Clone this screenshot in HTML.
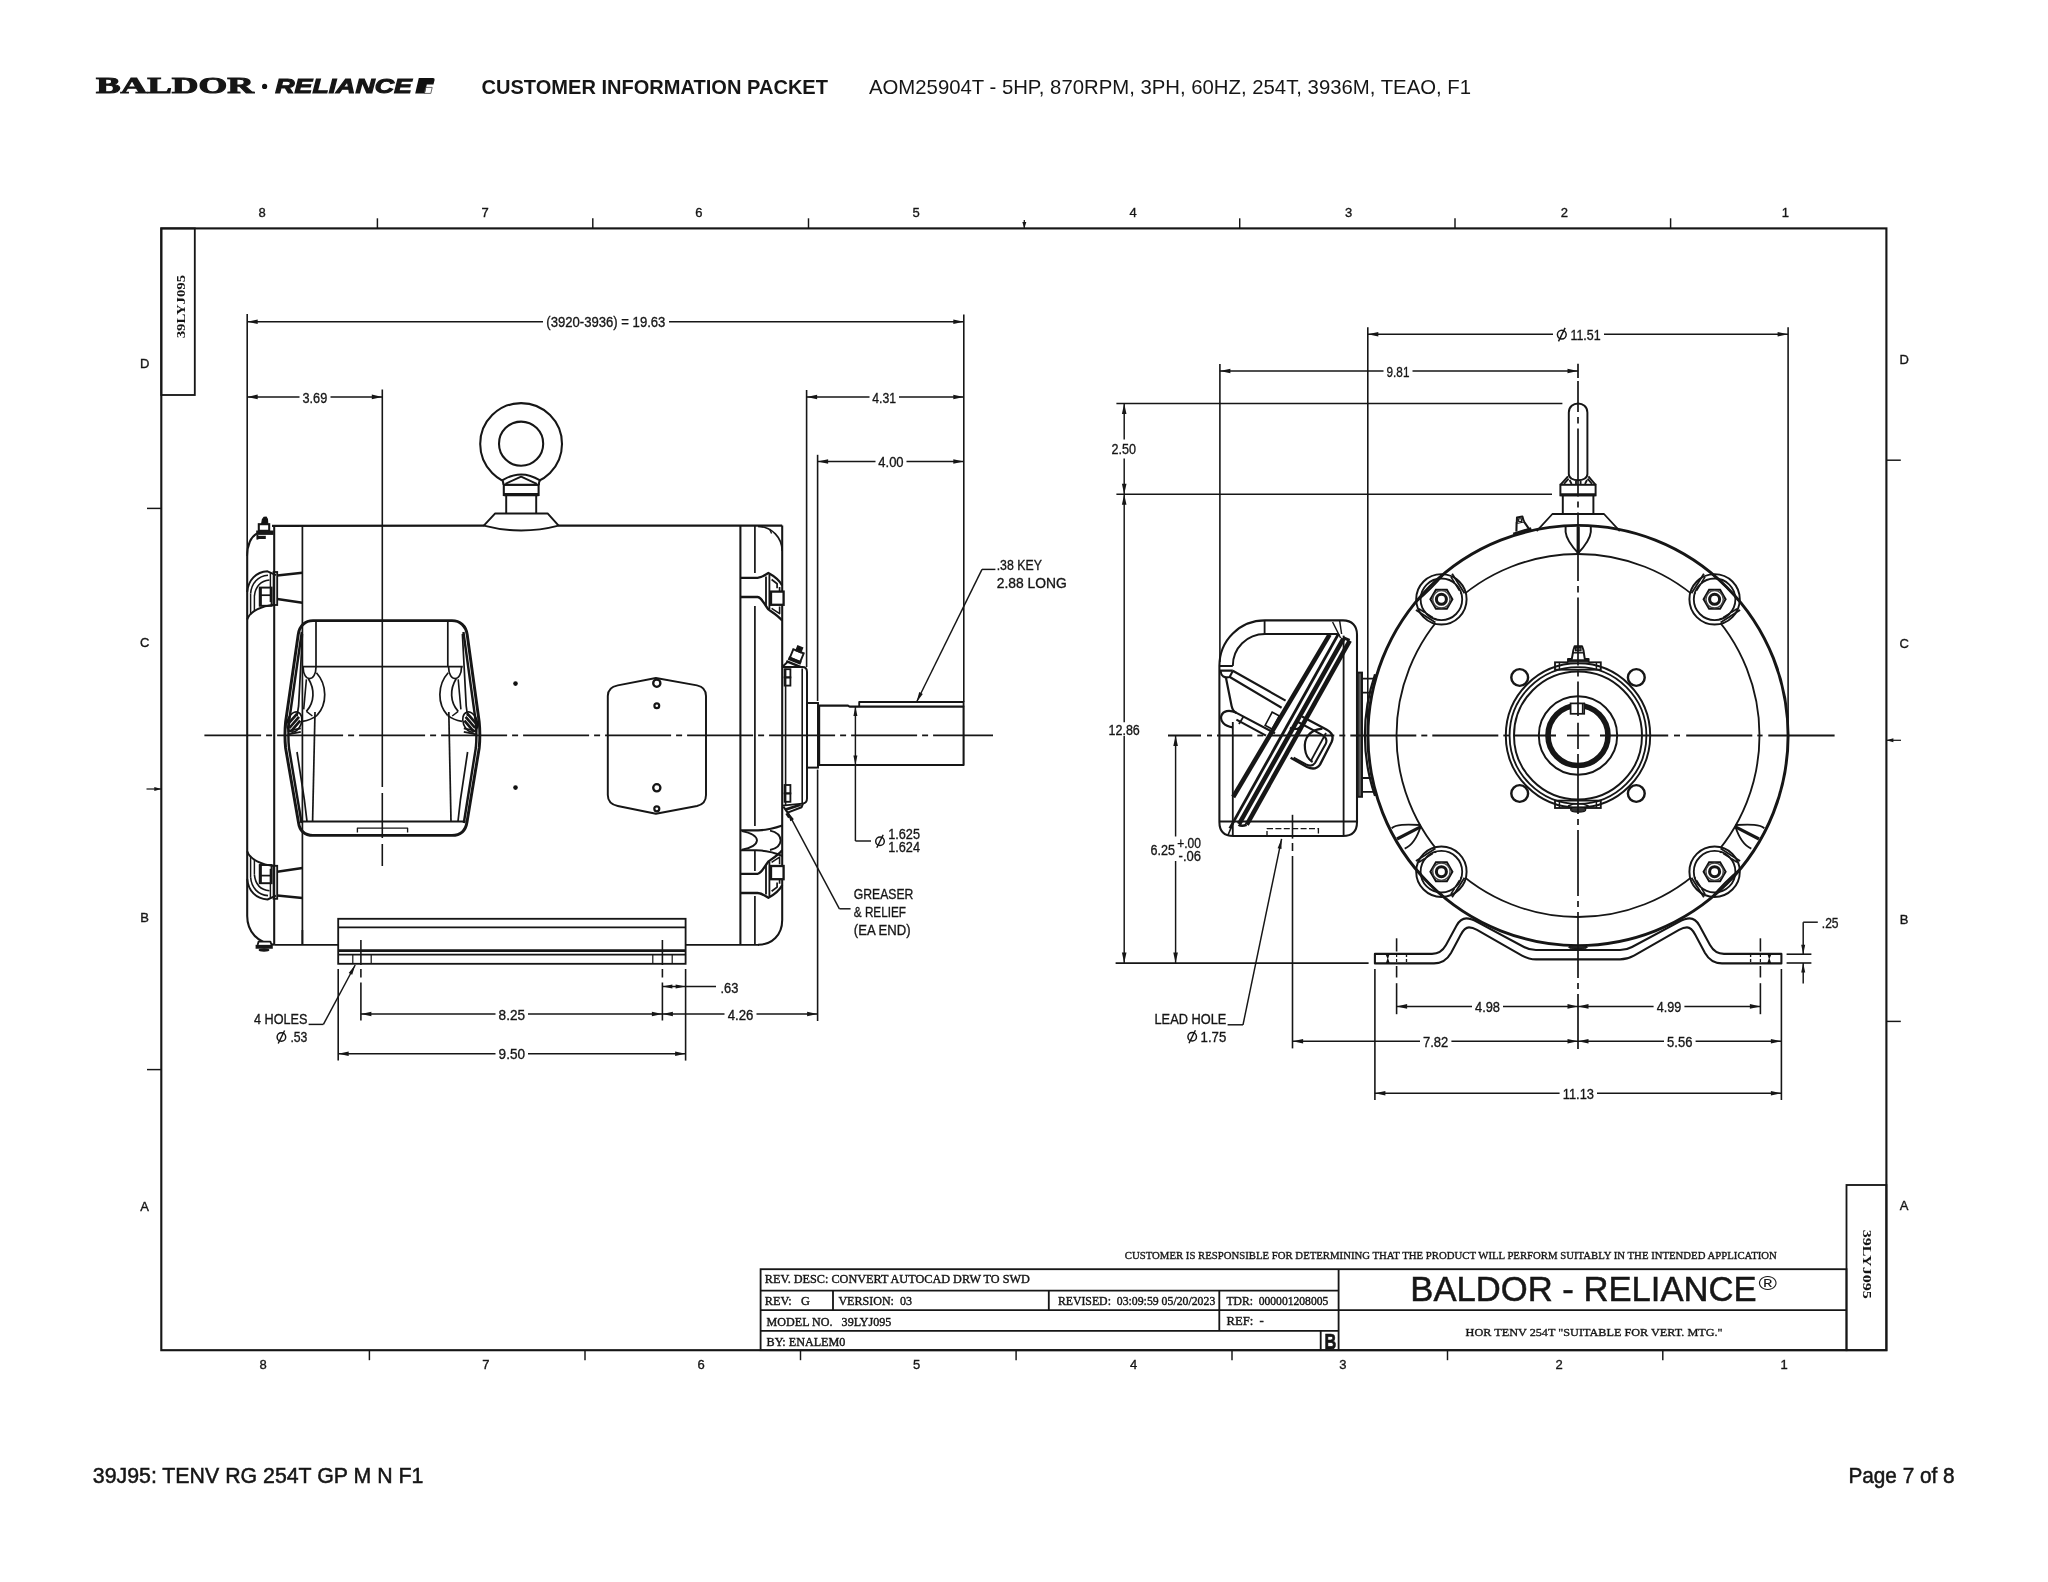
<!DOCTYPE html>
<html><head><meta charset="utf-8"><title>Customer Information Packet</title>
<style>
html,body{margin:0;padding:0;background:#fff;}
body{width:2048px;height:1582px;overflow:hidden;font-family:"Liberation Sans",sans-serif;}
svg{display:block;filter:grayscale(1) blur(0.45px);}
text{white-space:pre;}
</style></head><body>
<svg width="2048" height="1582" viewBox="0 0 2048 1582">
<rect x="0" y="0" width="2048" height="1582" fill="#fff"/>
<g id="header">
<text x="96.0" y="93.3" font-family="'Liberation Serif', sans-serif" font-size="22.8" font-weight="bold" font-style="normal" text-anchor="start" fill="#161616" textLength="157.8" lengthAdjust="spacingAndGlyphs" stroke="#161616" stroke-width="0.95">BALDOR</text>
<circle cx="264.6" cy="86.4" r="2.6" fill="#111" stroke="#161616" stroke-width="0.00"/>
<text x="275.3" y="93.3" font-family="'Liberation Sans', sans-serif" font-size="21" font-weight="bold" font-style="italic" text-anchor="start" fill="#161616" textLength="136.5" lengthAdjust="spacingAndGlyphs" stroke="#161616" stroke-width="1.1">RELIANCE</text>
<path d="M418.8 77.9 L433 77.9 Q435 77.9 434.6 80 L433.4 84.6 L426.8 84.6 L424.8 93.6 L415.2 93.6 Z" fill="#111"/>
<path d="M425.8 87.4 L432.2 87.4 L430.8 93.4 L424.4 93.4 Z" fill="none" stroke="#555" stroke-width="0.9"/>
<text x="481.5" y="93.5" font-family="'Liberation Sans', sans-serif" font-size="20.8" font-weight="bold" font-style="normal" text-anchor="start" fill="#161616" textLength="346.5" lengthAdjust="spacingAndGlyphs">CUSTOMER INFORMATION PACKET</text>
<text x="869.0" y="93.5" font-family="'Liberation Sans', sans-serif" font-size="20.8" font-weight="normal" font-style="normal" text-anchor="start" fill="#161616" textLength="602.0" lengthAdjust="spacingAndGlyphs">AOM25904T - 5HP, 870RPM, 3PH, 60HZ, 254T, 3936M, TEAO, F1</text>
<text x="92.8" y="1483.1" font-family="'Liberation Sans', sans-serif" font-size="21.6" font-weight="normal" font-style="normal" text-anchor="start" fill="#161616" textLength="330.6" lengthAdjust="spacingAndGlyphs" stroke="#161616" stroke-width="0.5">39J95: TENV RG 254T GP M N F1</text>
<text x="1848.4" y="1483.1" font-family="'Liberation Sans', sans-serif" font-size="21.6" font-weight="normal" font-style="normal" text-anchor="start" fill="#161616" textLength="106.3" lengthAdjust="spacingAndGlyphs" stroke="#161616" stroke-width="0.5">Page 7 of 8</text>
</g>
<g id="frame">
<rect x="161.3" y="228.4" width="1725.1" height="1121.8" rx="0" fill="none" stroke="#161616" stroke-width="2.13"/>
<rect x="161.3" y="228.4" width="33.5" height="166.6" rx="0" fill="none" stroke="#161616" stroke-width="1.83"/>
<text x="184.6" y="306.6" font-family="'Liberation Serif', sans-serif" font-size="13.4" font-weight="bold" font-style="normal" text-anchor="middle" fill="#161616" textLength="63.5" lengthAdjust="spacingAndGlyphs" transform="rotate(-90 184.6 306.6)">39LYJ095</text>
<rect x="1846.5" y="1185.0" width="39.9" height="165.2" rx="0" fill="none" stroke="#161616" stroke-width="1.83"/>
<text x="1862.6" y="1264.3" font-family="'Liberation Serif', sans-serif" font-size="13.2" font-weight="bold" font-style="normal" text-anchor="middle" fill="#161616" textLength="69.0" lengthAdjust="spacingAndGlyphs" transform="rotate(90 1862.6 1264.3)">39LYJ095</text>
<line x1="377.4" y1="218.3" x2="377.4" y2="228.4" stroke="#161616" stroke-width="1.46"/>
<line x1="592.8" y1="218.3" x2="592.8" y2="228.4" stroke="#161616" stroke-width="1.46"/>
<line x1="808.5" y1="218.3" x2="808.5" y2="228.4" stroke="#161616" stroke-width="1.46"/>
<line x1="1239.7" y1="218.3" x2="1239.7" y2="228.4" stroke="#161616" stroke-width="1.46"/>
<line x1="1455.0" y1="218.3" x2="1455.0" y2="228.4" stroke="#161616" stroke-width="1.46"/>
<line x1="1670.6" y1="218.3" x2="1670.6" y2="228.4" stroke="#161616" stroke-width="1.46"/>
<line x1="1024.3" y1="220.0" x2="1024.3" y2="228.4" stroke="#161616" stroke-width="1.22"/>
<polygon points="1024.3,228.4 1022.3,221.9 1026.3,221.9" fill="#161616"/>
<line x1="369.4" y1="1350.2" x2="369.4" y2="1360.2" stroke="#161616" stroke-width="1.46"/>
<line x1="585.0" y1="1350.2" x2="585.0" y2="1360.2" stroke="#161616" stroke-width="1.46"/>
<line x1="800.5" y1="1350.2" x2="800.5" y2="1360.2" stroke="#161616" stroke-width="1.46"/>
<line x1="1016.1" y1="1350.2" x2="1016.1" y2="1360.2" stroke="#161616" stroke-width="1.46"/>
<line x1="1232.0" y1="1350.2" x2="1232.0" y2="1360.2" stroke="#161616" stroke-width="1.46"/>
<line x1="1447.5" y1="1350.2" x2="1447.5" y2="1360.2" stroke="#161616" stroke-width="1.46"/>
<line x1="1662.8" y1="1350.2" x2="1662.8" y2="1360.2" stroke="#161616" stroke-width="1.46"/>
<text x="262.0" y="217.2" font-family="'Liberation Sans', sans-serif" font-size="13" font-weight="normal" font-style="normal" text-anchor="middle" fill="#161616" stroke="#161616" stroke-width="0.35">8</text>
<text x="485.2" y="217.2" font-family="'Liberation Sans', sans-serif" font-size="13" font-weight="normal" font-style="normal" text-anchor="middle" fill="#161616" stroke="#161616" stroke-width="0.35">7</text>
<text x="698.8" y="217.2" font-family="'Liberation Sans', sans-serif" font-size="13" font-weight="normal" font-style="normal" text-anchor="middle" fill="#161616" stroke="#161616" stroke-width="0.35">6</text>
<text x="916.0" y="217.2" font-family="'Liberation Sans', sans-serif" font-size="13" font-weight="normal" font-style="normal" text-anchor="middle" fill="#161616" stroke="#161616" stroke-width="0.35">5</text>
<text x="1133.0" y="217.2" font-family="'Liberation Sans', sans-serif" font-size="13" font-weight="normal" font-style="normal" text-anchor="middle" fill="#161616" stroke="#161616" stroke-width="0.35">4</text>
<text x="1348.6" y="217.2" font-family="'Liberation Sans', sans-serif" font-size="13" font-weight="normal" font-style="normal" text-anchor="middle" fill="#161616" stroke="#161616" stroke-width="0.35">3</text>
<text x="1564.4" y="217.2" font-family="'Liberation Sans', sans-serif" font-size="13" font-weight="normal" font-style="normal" text-anchor="middle" fill="#161616" stroke="#161616" stroke-width="0.35">2</text>
<text x="1785.3" y="217.2" font-family="'Liberation Sans', sans-serif" font-size="13" font-weight="normal" font-style="normal" text-anchor="middle" fill="#161616" stroke="#161616" stroke-width="0.35">1</text>
<text x="263.2" y="1369.2" font-family="'Liberation Sans', sans-serif" font-size="13" font-weight="normal" font-style="normal" text-anchor="middle" fill="#161616" stroke="#161616" stroke-width="0.35">8</text>
<text x="485.8" y="1369.2" font-family="'Liberation Sans', sans-serif" font-size="13" font-weight="normal" font-style="normal" text-anchor="middle" fill="#161616" stroke="#161616" stroke-width="0.35">7</text>
<text x="701.0" y="1369.2" font-family="'Liberation Sans', sans-serif" font-size="13" font-weight="normal" font-style="normal" text-anchor="middle" fill="#161616" stroke="#161616" stroke-width="0.35">6</text>
<text x="916.5" y="1369.2" font-family="'Liberation Sans', sans-serif" font-size="13" font-weight="normal" font-style="normal" text-anchor="middle" fill="#161616" stroke="#161616" stroke-width="0.35">5</text>
<text x="1133.6" y="1369.2" font-family="'Liberation Sans', sans-serif" font-size="13" font-weight="normal" font-style="normal" text-anchor="middle" fill="#161616" stroke="#161616" stroke-width="0.35">4</text>
<text x="1342.8" y="1369.2" font-family="'Liberation Sans', sans-serif" font-size="13" font-weight="normal" font-style="normal" text-anchor="middle" fill="#161616" stroke="#161616" stroke-width="0.35">3</text>
<text x="1559.2" y="1369.2" font-family="'Liberation Sans', sans-serif" font-size="13" font-weight="normal" font-style="normal" text-anchor="middle" fill="#161616" stroke="#161616" stroke-width="0.35">2</text>
<text x="1784.0" y="1369.2" font-family="'Liberation Sans', sans-serif" font-size="13" font-weight="normal" font-style="normal" text-anchor="middle" fill="#161616" stroke="#161616" stroke-width="0.35">1</text>
<text x="144.6" y="367.8" font-family="'Liberation Sans', sans-serif" font-size="13" font-weight="normal" font-style="normal" text-anchor="middle" fill="#161616" stroke="#161616" stroke-width="0.35">D</text>
<text x="144.6" y="647.2" font-family="'Liberation Sans', sans-serif" font-size="13" font-weight="normal" font-style="normal" text-anchor="middle" fill="#161616" stroke="#161616" stroke-width="0.35">C</text>
<text x="144.6" y="922.2" font-family="'Liberation Sans', sans-serif" font-size="13" font-weight="normal" font-style="normal" text-anchor="middle" fill="#161616" stroke="#161616" stroke-width="0.35">B</text>
<text x="144.6" y="1211.2" font-family="'Liberation Sans', sans-serif" font-size="13" font-weight="normal" font-style="normal" text-anchor="middle" fill="#161616" stroke="#161616" stroke-width="0.35">A</text>
<line x1="147.0" y1="508.4" x2="161.3" y2="508.4" stroke="#161616" stroke-width="1.46"/>
<line x1="147.0" y1="1069.6" x2="161.3" y2="1069.6" stroke="#161616" stroke-width="1.46"/>
<line x1="146.5" y1="789.0" x2="161.3" y2="789.0" stroke="#161616" stroke-width="1.22"/>
<polygon points="161.3,789.0 154.3,791.0 154.3,787.0" fill="#161616"/>
<text x="1904.2" y="364.0" font-family="'Liberation Sans', sans-serif" font-size="13" font-weight="normal" font-style="normal" text-anchor="middle" fill="#161616" stroke="#161616" stroke-width="0.35">D</text>
<text x="1904.2" y="647.5" font-family="'Liberation Sans', sans-serif" font-size="13" font-weight="normal" font-style="normal" text-anchor="middle" fill="#161616" stroke="#161616" stroke-width="0.35">C</text>
<text x="1904.2" y="923.8" font-family="'Liberation Sans', sans-serif" font-size="13" font-weight="normal" font-style="normal" text-anchor="middle" fill="#161616" stroke="#161616" stroke-width="0.35">B</text>
<text x="1904.2" y="1209.7" font-family="'Liberation Sans', sans-serif" font-size="13" font-weight="normal" font-style="normal" text-anchor="middle" fill="#161616" stroke="#161616" stroke-width="0.35">A</text>
<line x1="1886.4" y1="460.2" x2="1900.8" y2="460.2" stroke="#161616" stroke-width="1.46"/>
<line x1="1886.4" y1="1021.4" x2="1900.8" y2="1021.4" stroke="#161616" stroke-width="1.46"/>
<line x1="1886.4" y1="740.3" x2="1901.0" y2="740.3" stroke="#161616" stroke-width="1.22"/>
<polygon points="1886.4,740.3 1893.4,738.3 1893.4,742.3" fill="#161616"/>
</g>
<g id="titleblock">
<rect x="760.6" y="1269.2" width="1085.9" height="81.0" rx="0" fill="none" stroke="#161616" stroke-width="1.83"/>
<line x1="1338.6" y1="1269.2" x2="1338.6" y2="1350.2" stroke="#161616" stroke-width="1.83"/>
<line x1="760.6" y1="1290.6" x2="1338.6" y2="1290.6" stroke="#161616" stroke-width="1.83"/>
<line x1="760.6" y1="1310.2" x2="1338.6" y2="1310.2" stroke="#161616" stroke-width="1.83"/>
<line x1="760.6" y1="1330.8" x2="1338.6" y2="1330.8" stroke="#161616" stroke-width="1.83"/>
<line x1="1338.6" y1="1310.2" x2="1846.5" y2="1310.2" stroke="#161616" stroke-width="1.83"/>
<line x1="833.0" y1="1290.6" x2="833.0" y2="1310.2" stroke="#161616" stroke-width="1.83"/>
<line x1="1048.8" y1="1290.6" x2="1048.8" y2="1310.2" stroke="#161616" stroke-width="1.83"/>
<line x1="1219.3" y1="1290.6" x2="1219.3" y2="1330.8" stroke="#161616" stroke-width="1.83"/>
<line x1="1320.7" y1="1330.8" x2="1320.7" y2="1350.2" stroke="#161616" stroke-width="1.83"/>
<text x="764.8" y="1283.0" font-family="'Liberation Serif', sans-serif" font-size="12.0" font-weight="normal" font-style="normal" text-anchor="start" fill="#161616" textLength="265.0" lengthAdjust="spacingAndGlyphs" stroke="#161616" stroke-width="0.4">REV. DESC: CONVERT AUTOCAD DRW TO SWD</text>
<text x="764.8" y="1304.8" font-family="'Liberation Serif', sans-serif" font-size="12.0" font-weight="normal" font-style="normal" text-anchor="start" fill="#161616" textLength="45.0" lengthAdjust="spacingAndGlyphs" stroke="#161616" stroke-width="0.4">REV:   G</text>
<text x="838.4" y="1304.8" font-family="'Liberation Serif', sans-serif" font-size="12.0" font-weight="normal" font-style="normal" text-anchor="start" fill="#161616" textLength="73.6" lengthAdjust="spacingAndGlyphs" stroke="#161616" stroke-width="0.4">VERSION:  03</text>
<text x="1057.9" y="1304.8" font-family="'Liberation Serif', sans-serif" font-size="12.0" font-weight="normal" font-style="normal" text-anchor="start" fill="#161616" textLength="157.4" lengthAdjust="spacingAndGlyphs" stroke="#161616" stroke-width="0.4">REVISED:  03:09:59 05/20/2023</text>
<text x="1226.5" y="1304.8" font-family="'Liberation Serif', sans-serif" font-size="12.0" font-weight="normal" font-style="normal" text-anchor="start" fill="#161616" textLength="101.8" lengthAdjust="spacingAndGlyphs" stroke="#161616" stroke-width="0.4">TDR:  000001208005</text>
<text x="766.6" y="1326.3" font-family="'Liberation Serif', sans-serif" font-size="12.0" font-weight="normal" font-style="normal" text-anchor="start" fill="#161616" textLength="124.8" lengthAdjust="spacingAndGlyphs" stroke="#161616" stroke-width="0.4">MODEL NO.   39LYJ095</text>
<text x="1226.5" y="1324.6" font-family="'Liberation Serif', sans-serif" font-size="12.0" font-weight="normal" font-style="normal" text-anchor="start" fill="#161616" textLength="37.3" lengthAdjust="spacingAndGlyphs" stroke="#161616" stroke-width="0.4">REF:  -</text>
<text x="766.6" y="1346.0" font-family="'Liberation Serif', sans-serif" font-size="12.0" font-weight="normal" font-style="normal" text-anchor="start" fill="#161616" textLength="78.8" lengthAdjust="spacingAndGlyphs" stroke="#161616" stroke-width="0.4">BY: ENALEM0</text>
<text x="1330.4" y="1349.4" font-family="'Liberation Sans', sans-serif" font-size="21.5" font-weight="bold" font-style="normal" text-anchor="middle" fill="#161616" textLength="11.8" lengthAdjust="spacingAndGlyphs" stroke="#161616" stroke-width="0.7">B</text>
<text x="1124.8" y="1258.9" font-family="'Liberation Serif', sans-serif" font-size="10.8" font-weight="normal" font-style="normal" text-anchor="start" fill="#161616" textLength="652.0" lengthAdjust="spacingAndGlyphs" stroke="#161616" stroke-width="0.35">CUSTOMER IS RESPONSIBLE FOR DETERMINING THAT THE PRODUCT WILL PERFORM SUITABLY IN THE INTENDED APPLICATION</text>
<text x="1410.3" y="1300.9" font-family="'Liberation Sans', sans-serif" font-size="34.8" font-weight="normal" font-style="normal" text-anchor="start" fill="#161616" textLength="346.3" lengthAdjust="spacingAndGlyphs" stroke="#161616" stroke-width="0.5">BALDOR - RELIANCE</text>
<text x="1758.4" y="1289.8" font-family="'Liberation Sans', sans-serif" font-size="21" font-weight="normal" font-style="normal" text-anchor="start" fill="#161616" textLength="18.5" lengthAdjust="spacingAndGlyphs">®</text>
<text x="1465.6" y="1336.2" font-family="'Liberation Serif', sans-serif" font-size="11.4" font-weight="normal" font-style="normal" text-anchor="start" fill="#161616" textLength="257.0" lengthAdjust="spacingAndGlyphs" stroke="#161616" stroke-width="0.35">HOR TENV 254T "SUITABLE FOR VERT. MTG."</text>
</g>
<g id="leftview">
<line x1="272.0" y1="525.9" x2="484.2" y2="525.6" stroke="#161616" stroke-width="2.07"/>
<line x1="558.2" y1="525.6" x2="782.2" y2="525.6" stroke="#161616" stroke-width="2.07"/>
<line x1="274.2" y1="526.1" x2="274.2" y2="944.8" stroke="#161616" stroke-width="2.07"/>
<line x1="302.4" y1="525.6" x2="302.4" y2="944.8" stroke="#161616" stroke-width="1.71"/>
<line x1="740.4" y1="525.6" x2="740.4" y2="944.8" stroke="#161616" stroke-width="2.07"/>
<line x1="754.9" y1="525.6" x2="754.9" y2="573.0" stroke="#161616" stroke-width="1.71"/>
<line x1="754.9" y1="606.0" x2="754.9" y2="826.0" stroke="#161616" stroke-width="1.71"/>
<line x1="754.9" y1="851.0" x2="754.9" y2="871.0" stroke="#161616" stroke-width="1.71"/>
<line x1="754.9" y1="896.0" x2="754.9" y2="944.8" stroke="#161616" stroke-width="1.71"/>
<path d="M257,533.4 C251,537 247.2,545 247.2,556 L247.2,916 C247.2,932 258,943 274.2,944.8" fill="none" stroke="#161616" stroke-width="2.07" stroke-linejoin="round"/>
<line x1="274.2" y1="944.8" x2="338.0" y2="944.8" stroke="#161616" stroke-width="1.71"/>
<line x1="685.6" y1="944.8" x2="759.0" y2="944.8" stroke="#161616" stroke-width="1.83"/>
<path d="M782.2,525.6 L782.2,920 C782.2,935 772,944.8 758,944.8" fill="none" stroke="#161616" stroke-width="2.07" stroke-linejoin="round"/>
<path d="M758,526.4 C772,526.6 782.2,538 782.2,551" fill="none" stroke="#161616" stroke-width="1.71" stroke-linejoin="round"/>
<line x1="769.6" y1="529.0" x2="771.6" y2="533.5" stroke="#161616" stroke-width="1.46"/>
<path d="M257.6,945 L258.6,941.6 L270.4,941.6 L271.6,945" fill="#fff" stroke="#161616" stroke-width="1.83" stroke-linejoin="round"/>
<line x1="255.6" y1="946.8" x2="272.8" y2="946.8" stroke="#161616" stroke-width="3.90"/>
<ellipse cx="264" cy="950" rx="5.4" ry="1.7" fill="#161616"/>
<path d="M261.6,524.4 L262.4,519.6 L264,517.4 L266.2,517.2 L267.4,519.2 L267.8,524.4 Z" fill="#111" stroke="#111" stroke-width="1.2"/>
<rect x="258.8" y="524.2" width="10.4" height="6.6" rx="0" fill="#fff" stroke="#161616" stroke-width="2.07"/>
<line x1="256.2" y1="532.7" x2="273.6" y2="532.7" stroke="#161616" stroke-width="4.39"/>
<line x1="257.0" y1="537.4" x2="265.8" y2="537.4" stroke="#161616" stroke-width="3.17"/>
<line x1="257.4" y1="535.0" x2="257.4" y2="539.6" stroke="#161616" stroke-width="1.95"/>
<path d="M247.2,592.0 C248.2,580.0 256,572.0 267.5,571.3 L276,575.2" fill="none" stroke="#161616" stroke-width="1.95" stroke-linejoin="round"/>
<path d="M250.6,593.5 C251.5,583.0 258,576.0 268,575.2" fill="none" stroke="#161616" stroke-width="1.59" stroke-linejoin="round"/>
<path d="M254.4,596.0 C255.4,587.0 260,581.0 269.5,580.0" fill="none" stroke="#161616" stroke-width="1.59" stroke-linejoin="round"/>
<path d="M247.2,619.5 C250,611.0 262,606.0 274.2,604.8" fill="none" stroke="#161616" stroke-width="1.95" stroke-linejoin="round"/>
<path d="M250.6,593.5 L250.6,615.0 M254.4,596.0 L254.4,611.5" fill="none" stroke="#161616" stroke-width="1.46" stroke-linejoin="round"/>
<rect x="273.6" y="572.0" width="3.6" height="33.0" rx="0" fill="none" stroke="#161616" stroke-width="1.83"/>
<line x1="270.4" y1="572.4" x2="270.4" y2="602.0" stroke="#161616" stroke-width="1.46"/>
<line x1="277.2" y1="575.4" x2="302.4" y2="572.8" stroke="#161616" stroke-width="2.56"/>
<line x1="277.2" y1="599.0" x2="302.4" y2="602.8" stroke="#161616" stroke-width="2.56"/>
<rect x="259.8" y="587.6" width="11.8" height="18.2" rx="0" fill="none" stroke="#161616" stroke-width="1.95"/>
<line x1="259.8" y1="595.2" x2="271.6" y2="595.2" stroke="#161616" stroke-width="1.71"/>
<line x1="260.4" y1="587.6" x2="260.4" y2="605.8" stroke="#161616" stroke-width="2.93"/>
<path d="M247.2,878.8 C248.2,890.8 256,898.8 267.5,899.5 L276,895.5999999999999" fill="none" stroke="#161616" stroke-width="1.95" stroke-linejoin="round"/>
<path d="M250.6,877.3 C251.5,887.8 258,894.8 268,895.5999999999999" fill="none" stroke="#161616" stroke-width="1.59" stroke-linejoin="round"/>
<path d="M254.4,874.8 C255.4,883.8 260,889.8 269.5,890.8" fill="none" stroke="#161616" stroke-width="1.59" stroke-linejoin="round"/>
<path d="M247.2,851.3 C250,859.8 262,864.8 274.2,866.0" fill="none" stroke="#161616" stroke-width="1.95" stroke-linejoin="round"/>
<path d="M250.6,877.3 L250.6,855.8 M254.4,874.8 L254.4,859.3" fill="none" stroke="#161616" stroke-width="1.46" stroke-linejoin="round"/>
<rect x="273.6" y="865.8" width="3.6" height="33.0" rx="0" fill="none" stroke="#161616" stroke-width="1.83"/>
<line x1="270.4" y1="898.4" x2="270.4" y2="868.8" stroke="#161616" stroke-width="1.46"/>
<line x1="277.2" y1="895.4" x2="302.4" y2="898.0" stroke="#161616" stroke-width="2.56"/>
<line x1="277.2" y1="871.8" x2="302.4" y2="868.0" stroke="#161616" stroke-width="2.56"/>
<rect x="259.8" y="865.0" width="11.8" height="18.2" rx="0" fill="none" stroke="#161616" stroke-width="1.95"/>
<line x1="259.8" y1="875.6" x2="271.6" y2="875.6" stroke="#161616" stroke-width="1.71"/>
<line x1="260.4" y1="883.2" x2="260.4" y2="865.0" stroke="#161616" stroke-width="2.93"/>
<path d="M740.4,577.8 L757.6,577.8 C762,577.6 765,575.0 768.4,573.0 C774,576.0 779.5,580.5 782.2,585.5" fill="none" stroke="#161616" stroke-width="2.32" stroke-linejoin="round"/>
<path d="M740.4,597.0 L757.6,597.0 C762,597.4 764,604.0 768.4,609.4 C773,612.6 778.6,616.0 782.2,620.6" fill="none" stroke="#161616" stroke-width="2.32" stroke-linejoin="round"/>
<line x1="766.0" y1="576.4" x2="766.0" y2="606.4" stroke="#161616" stroke-width="1.83"/>
<line x1="769.4" y1="574.4" x2="769.4" y2="609.0" stroke="#161616" stroke-width="1.83"/>
<rect x="771.0" y="591.6" width="12.6" height="13.2" rx="0" fill="#fff" stroke="#161616" stroke-width="2.32"/>
<path d="M771.6,579.5 l5.5,4.2 l0,4.6 M779.6,587.0 l0,4.2" fill="none" stroke="#161616" stroke-width="1.71" stroke-linejoin="round"/>
<path d="M771.6,608.4 l8,5.2 l0,-7" fill="none" stroke="#161616" stroke-width="1.59" stroke-linejoin="round"/>
<path d="M740.4,893.0 L757.6,893.0 C762,893.1999999999999 765,895.8 768.4,897.8 C774,894.8 779.5,890.3 782.2,885.3" fill="none" stroke="#161616" stroke-width="2.32" stroke-linejoin="round"/>
<path d="M740.4,873.8 L757.6,873.8 C762,873.4 764,866.8 768.4,861.4 C773,858.1999999999999 778.6,854.8 782.2,850.1999999999999" fill="none" stroke="#161616" stroke-width="2.32" stroke-linejoin="round"/>
<line x1="766.0" y1="894.4" x2="766.0" y2="864.4" stroke="#161616" stroke-width="1.83"/>
<line x1="769.4" y1="896.4" x2="769.4" y2="861.8" stroke="#161616" stroke-width="1.83"/>
<rect x="771.0" y="866.0" width="12.6" height="13.2" rx="0" fill="#fff" stroke="#161616" stroke-width="2.32"/>
<path d="M771.6,891.3 l5.5,-4.2 l0,-4.6 M779.6,883.8 l0,-4.2" fill="none" stroke="#161616" stroke-width="1.71" stroke-linejoin="round"/>
<path d="M771.6,862.4 l8,-5.2 l0,7" fill="none" stroke="#161616" stroke-width="1.59" stroke-linejoin="round"/>
<path d="M740.4,830.4 L758,830.4 C768,830 776,827.6 782.2,825.4" fill="none" stroke="#161616" stroke-width="2.07" stroke-linejoin="round"/>
<path d="M740.4,850.2 L756,850.2 C768,850.6 776,853 782.2,856" fill="none" stroke="#161616" stroke-width="2.07" stroke-linejoin="round"/>
<path d="M742,831.2 C751,833 756.6,836 757,840.4 C756.6,844.6 751,848 742,849.6" fill="none" stroke="#161616" stroke-width="1.83" stroke-linejoin="round"/>
<path d="M770,830.6 C777,832 780.4,836 780.6,840.4 C780.4,845 777,848.6 770,850" fill="none" stroke="#161616" stroke-width="1.83" stroke-linejoin="round"/>
<circle cx="521.1" cy="444.0" r="40.9" fill="none" stroke="#161616" stroke-width="2.07"/>
<circle cx="521.1" cy="443.7" r="22.1" fill="none" stroke="#161616" stroke-width="2.07"/>
<rect x="503.8" y="484.8" width="34.8" height="10.2" rx="0" fill="#fff" stroke="#161616" stroke-width="2.07"/>
<line x1="503.8" y1="494.6" x2="538.6" y2="494.6" stroke="#161616" stroke-width="3.17"/>
<path d="M503.8,484.8 L502.8,480 M538.6,484.8 L539.6,480" fill="none" stroke="#161616" stroke-width="1.95" stroke-linejoin="round"/>
<path d="M502.6,480.2 Q521.1,468.6 539.6,480.2 L538.6,484.8 L503.8,484.8 Z" fill="#fff" stroke="#161616" stroke-width="1.95" stroke-linejoin="round"/>
<path d="M505.4,483.8 L521.1,476.7 L536.8,483.8" fill="none" stroke="#161616" stroke-width="1.83" stroke-linejoin="round"/>
<line x1="506.2" y1="495.2" x2="506.2" y2="513.4" stroke="#161616" stroke-width="1.95"/>
<line x1="536.2" y1="495.2" x2="536.2" y2="513.4" stroke="#161616" stroke-width="1.95"/>
<path d="M483.8,525.6 L495.2,513.4 L547.6,513.4 L558.6,525.6" fill="none" stroke="#161616" stroke-width="1.95" stroke-linejoin="round"/>
<path d="M483.8,525.6 Q521.1,535.4 558.6,525.6" fill="none" stroke="#161616" stroke-width="1.95" stroke-linejoin="round"/>
<path d="M313,620.6 L452,620.6 C460,620.6 466,626 467.2,634.6 L479.2,722 C480,730 480,740 479.2,748 L467,822 C465.6,831 460,835.4 452,835.4 L313,835.4 C305,835.4 299.6,831 298.4,822 L285.6,748 C284.8,740 284.8,730 285.6,722 L298.2,634.6 C299.4,626 305,620.6 313,620.6 Z" fill="none" stroke="#161616" stroke-width="2.93" stroke-linejoin="round"/>
<path d="M301.8,632 L289,722 C288.2,731 288.2,740 289,748 L301.6,823" fill="none" stroke="#161616" stroke-width="2.44" stroke-linejoin="round"/>
<path d="M463.4,632 L475.8,722 C476.6,731 476.6,740 475.8,748 L463.8,823" fill="none" stroke="#161616" stroke-width="2.44" stroke-linejoin="round"/>
<path d="M302.4,634 L298.6,706 L297,716" fill="none" stroke="#161616" stroke-width="1.71" stroke-linejoin="round"/>
<path d="M462.4,634 L466.2,706 L467.6,716" fill="none" stroke="#161616" stroke-width="1.71" stroke-linejoin="round"/>
<path d="M297,752 L304.4,800 L307,821.4 M467.6,752 L460.4,800 L458,821.4" fill="none" stroke="#161616" stroke-width="1.71" stroke-linejoin="round"/>
<line x1="316.0" y1="620.6" x2="316.0" y2="667.0" stroke="#161616" stroke-width="1.71"/>
<line x1="447.8" y1="620.6" x2="447.8" y2="667.0" stroke="#161616" stroke-width="1.71"/>
<line x1="315.0" y1="712.0" x2="312.6" y2="821.4" stroke="#161616" stroke-width="1.71"/>
<line x1="448.8" y1="712.0" x2="451.0" y2="821.4" stroke="#161616" stroke-width="1.71"/>
<line x1="302.4" y1="666.6" x2="462.8" y2="666.6" stroke="#161616" stroke-width="1.95"/>
<line x1="300.0" y1="821.4" x2="465.6" y2="821.4" stroke="#161616" stroke-width="1.95"/>
<path d="M303.1,666.9 C303.1,682.4 316.0,682.4 316.0,666.9" fill="none" stroke="#161616" stroke-width="1.71" stroke-linejoin="round"/>
<path d="M316.4,672.8 C327.4,685 327.4,704 317.0,715.3" fill="none" stroke="#161616" stroke-width="1.71" stroke-linejoin="round"/>
<path d="M308.4,678.8 C314.8,689 314.8,702 306.4,711.4" fill="none" stroke="#161616" stroke-width="1.71" stroke-linejoin="round"/>
<path d="M306.4,679.4 L303.7,709.4" fill="none" stroke="#161616" stroke-width="1.59" stroke-linejoin="round"/>
<path d="M317.0,715.3 C313.0,718.5 308.0,720.4 302.6,721.4" fill="none" stroke="#161616" stroke-width="1.71" stroke-linejoin="round"/>
<path d="M306.4,711.4 L312.4,716" fill="none" stroke="#161616" stroke-width="1.46" stroke-linejoin="round"/>
<ellipse cx="294.4" cy="722" rx="7" ry="10.4" fill="none" stroke="#111" stroke-width="1.6" transform="rotate(20 294.4 722)"/>
<path d="M288.4,723.6 L297.2,713.6 M289.4,728 L299.0,716.8 M291.2,731.2 L300.2,720.6" fill="none" stroke="#161616" stroke-width="2.68" stroke-linejoin="round"/>
<path d="M287.4,731.2 L300.8,728.4 M288.4,734.4 L300.8,731.8" fill="none" stroke="#161616" stroke-width="1.83" stroke-linejoin="round"/>
<path d="M461.5,666.9 C461.5,682.4 448.6,682.4 448.6,666.9" fill="none" stroke="#161616" stroke-width="1.71" stroke-linejoin="round"/>
<path d="M448.20000000000005,672.8 C437.20000000000005,685 437.20000000000005,704 447.6,715.3" fill="none" stroke="#161616" stroke-width="1.71" stroke-linejoin="round"/>
<path d="M456.20000000000005,678.8 C449.8,689 449.8,702 458.20000000000005,711.4" fill="none" stroke="#161616" stroke-width="1.71" stroke-linejoin="round"/>
<path d="M458.20000000000005,679.4 L460.90000000000003,709.4" fill="none" stroke="#161616" stroke-width="1.59" stroke-linejoin="round"/>
<path d="M447.6,715.3 C451.6,718.5 456.6,720.4 462.0,721.4" fill="none" stroke="#161616" stroke-width="1.71" stroke-linejoin="round"/>
<path d="M458.20000000000005,711.4 L452.20000000000005,716" fill="none" stroke="#161616" stroke-width="1.46" stroke-linejoin="round"/>
<ellipse cx="470.2" cy="722" rx="7" ry="10.4" fill="none" stroke="#111" stroke-width="1.6" transform="rotate(-20 470.2 722)"/>
<path d="M476.20000000000005,723.6 L467.40000000000003,713.6 M475.20000000000005,728 L465.6,716.8 M473.40000000000003,731.2 L464.40000000000003,720.6" fill="none" stroke="#161616" stroke-width="2.68" stroke-linejoin="round"/>
<path d="M477.20000000000005,731.2 L463.8,728.4 M476.20000000000005,734.4 L463.8,731.8" fill="none" stroke="#161616" stroke-width="1.83" stroke-linejoin="round"/>
<path d="M357.4,832.6 L357.4,828.2 L407.6,828.2 L407.6,832.6" fill="none" stroke="#161616" stroke-width="1.34" stroke-linejoin="round"/>
<path d="M607.8,696 C607.8,690 611,686.6 617.8,685.4 L655.9,678 L697,685.4 C703,686.6 706,690 706,696 L706,795 C706,801 703,804.6 697,806 L655.9,813.8 L617.8,806 C611,804.6 607.8,801 607.8,795 Z" fill="none" stroke="#161616" stroke-width="1.95" stroke-linejoin="round"/>
<circle cx="656.8" cy="683.2" r="3.6" fill="#fff" stroke="#161616" stroke-width="2.32"/>
<circle cx="656.8" cy="705.8" r="2.4" fill="none" stroke="#161616" stroke-width="2.20"/>
<circle cx="656.8" cy="787.8" r="3.6" fill="none" stroke="#161616" stroke-width="2.32"/>
<circle cx="656.8" cy="808.8" r="2.5" fill="#fff" stroke="#161616" stroke-width="2.20"/>
<circle cx="515.5" cy="683.6" r="2.3" fill="#111" stroke="#161616" stroke-width="0.00"/>
<circle cx="515.5" cy="787.6" r="2.3" fill="#111" stroke="#161616" stroke-width="0.00"/>
<path d="M782.2,667 L802.4,667 C805.6,667 807,669 807,672 L807,798.6 C807,802 805.6,803.4 802.4,803.6 L782.2,805.6" fill="none" stroke="#161616" stroke-width="1.95" stroke-linejoin="round"/>
<line x1="802.2" y1="668.5" x2="802.2" y2="803.0" stroke="#161616" stroke-width="1.59"/>
<line x1="785.6" y1="668.7" x2="785.6" y2="805.0" stroke="#161616" stroke-width="1.59"/>
<rect x="784.6" y="669.2" width="5.8" height="8.2" rx="0" fill="none" stroke="#161616" stroke-width="1.83"/>
<rect x="784.6" y="677.4" width="5.8" height="8.2" rx="0" fill="none" stroke="#161616" stroke-width="1.83"/>
<rect x="784.6" y="785.0" width="5.8" height="8.4" rx="0" fill="none" stroke="#161616" stroke-width="1.83"/>
<rect x="784.6" y="793.4" width="5.8" height="8.4" rx="0" fill="none" stroke="#161616" stroke-width="1.83"/>
<g transform="rotate(22 795 660)">
<rect x="789.4" y="650.6" width="11.2" height="9.4" rx="0" fill="#fff" stroke="#161616" stroke-width="1.95"/>
<line x1="788.2" y1="660.6" x2="801.8" y2="660.6" stroke="#161616" stroke-width="3.66"/>
<line x1="787.4" y1="664.4" x2="802.6" y2="664.4" stroke="#161616" stroke-width="2.44"/>
<rect x="792.6" y="646.2" width="4.6" height="4.4" rx="0" fill="#111" stroke="#161616" stroke-width="1.95"/>
</g>
<path d="M782.2,667 L787.5,662" fill="none" stroke="#161616" stroke-width="1.95" stroke-linejoin="round"/>
<path d="M783.4,806.6 L787.6,812.6 L801.6,807.2 L803,803.4" fill="none" stroke="#161616" stroke-width="2.07" stroke-linejoin="round"/>
<path d="M785.4,809.6 L800.6,804.8" fill="none" stroke="#161616" stroke-width="2.68" stroke-linejoin="round"/>
<path d="M786.4,813.4 L789.2,817.6" fill="none" stroke="#161616" stroke-width="2.44" stroke-linejoin="round"/>
<rect x="807.0" y="703.0" width="11.0" height="64.6" rx="0" fill="none" stroke="#161616" stroke-width="1.95"/>
<line x1="818.6" y1="705.6" x2="818.6" y2="765.4" stroke="#161616" stroke-width="3.17"/>
<path d="M818,705.6 L848,705.6 L849.6,706.6 L963.6,706.6 L963.6,765 L818,765" fill="none" stroke="#161616" stroke-width="2.07" stroke-linejoin="round"/>
<path d="M859.2,706.4 L859.2,702 L963.6,702 L963.6,706.6" fill="none" stroke="#161616" stroke-width="1.83" stroke-linejoin="round"/>
<rect x="338.2" y="918.8" width="347.4" height="45.0" rx="0" fill="#fff" stroke="#161616" stroke-width="1.83"/>
<line x1="338.2" y1="927.4" x2="685.6" y2="927.4" stroke="#161616" stroke-width="1.83"/>
<line x1="338.2" y1="950.6" x2="685.6" y2="950.6" stroke="#161616" stroke-width="2.68"/>
<line x1="338.2" y1="954.6" x2="685.6" y2="954.6" stroke="#161616" stroke-width="1.71"/>
<line x1="352.8" y1="954.6" x2="352.8" y2="963.8" stroke="#161616" stroke-width="1.22"/>
<line x1="371.2" y1="954.6" x2="371.2" y2="963.8" stroke="#161616" stroke-width="1.22"/>
<line x1="652.8" y1="954.6" x2="652.8" y2="963.8" stroke="#161616" stroke-width="1.22"/>
<line x1="672.2" y1="954.6" x2="672.2" y2="963.8" stroke="#161616" stroke-width="1.22"/>
<line x1="302.4" y1="930.0" x2="302.4" y2="944.8" stroke="#161616" stroke-width="1.71"/>
<line x1="204.4" y1="735.4" x2="993.0" y2="735.4" stroke="#161616" stroke-width="1.83" stroke-dasharray="66 5 6 5" stroke-dashoffset="9.3"/>
<line x1="382.3" y1="389.5" x2="382.3" y2="787.0" stroke="#161616" stroke-width="1.59"/>
<line x1="382.3" y1="793.0" x2="382.3" y2="838.0" stroke="#161616" stroke-width="1.59"/>
<line x1="382.3" y1="844.0" x2="382.3" y2="866.0" stroke="#161616" stroke-width="1.59"/>
<line x1="360.9" y1="940.0" x2="360.9" y2="965.0" stroke="#161616" stroke-width="1.59"/>
<line x1="360.9" y1="969.0" x2="360.9" y2="977.5" stroke="#161616" stroke-width="1.59"/>
<line x1="360.9" y1="982.5" x2="360.9" y2="1020.5" stroke="#161616" stroke-width="1.59"/>
<line x1="662.4" y1="940.0" x2="662.4" y2="965.0" stroke="#161616" stroke-width="1.59"/>
<line x1="662.4" y1="969.0" x2="662.4" y2="977.5" stroke="#161616" stroke-width="1.59"/>
<line x1="662.4" y1="982.5" x2="662.4" y2="1020.5" stroke="#161616" stroke-width="1.59"/>
<line x1="247.2" y1="314.0" x2="247.2" y2="556.0" stroke="#161616" stroke-width="1.59"/>
<line x1="963.8" y1="314.4" x2="963.8" y2="702.0" stroke="#161616" stroke-width="1.59"/>
<line x1="247.2" y1="321.8" x2="543.0" y2="321.8" stroke="#161616" stroke-width="1.46"/>
<line x1="669.0" y1="321.8" x2="963.8" y2="321.8" stroke="#161616" stroke-width="1.46"/>
<polygon points="247.2,321.8 257.7,319.5 257.7,324.1" fill="#161616"/>
<polygon points="963.8,321.8 953.3,324.1 953.3,319.5" fill="#161616"/>
<text x="546.3" y="327.2" font-family="'Liberation Sans', sans-serif" font-size="13.8" font-weight="normal" font-style="normal" text-anchor="start" fill="#161616" textLength="119.1" lengthAdjust="spacingAndGlyphs" stroke="#161616" stroke-width="0.32">(3920-3936) = 19.63</text>
<line x1="247.2" y1="396.9" x2="299.5" y2="396.9" stroke="#161616" stroke-width="1.46"/>
<line x1="330.5" y1="396.9" x2="382.3" y2="396.9" stroke="#161616" stroke-width="1.46"/>
<polygon points="247.2,396.9 257.7,394.6 257.7,399.2" fill="#161616"/>
<polygon points="382.3,396.9 371.8,399.2 371.8,394.6" fill="#161616"/>
<text x="302.5" y="402.6" font-family="'Liberation Sans', sans-serif" font-size="13.8" font-weight="normal" font-style="normal" text-anchor="start" fill="#161616" textLength="24.7" lengthAdjust="spacingAndGlyphs" stroke="#161616" stroke-width="0.32">3.69</text>
<line x1="806.6" y1="390.0" x2="806.6" y2="667.0" stroke="#161616" stroke-width="1.59"/>
<line x1="806.6" y1="397.0" x2="869.5" y2="397.0" stroke="#161616" stroke-width="1.46"/>
<line x1="899.0" y1="397.0" x2="963.8" y2="397.0" stroke="#161616" stroke-width="1.46"/>
<polygon points="806.6,397.0 817.1,394.7 817.1,399.3" fill="#161616"/>
<polygon points="963.8,397.0 953.3,399.3 953.3,394.7" fill="#161616"/>
<text x="872.2" y="402.6" font-family="'Liberation Sans', sans-serif" font-size="13.8" font-weight="normal" font-style="normal" text-anchor="start" fill="#161616" textLength="23.8" lengthAdjust="spacingAndGlyphs" stroke="#161616" stroke-width="0.32">4.31</text>
<line x1="817.6" y1="454.8" x2="817.6" y2="701.0" stroke="#161616" stroke-width="1.59"/>
<line x1="817.6" y1="769.6" x2="817.6" y2="1021.0" stroke="#161616" stroke-width="1.59"/>
<line x1="817.6" y1="461.5" x2="875.5" y2="461.5" stroke="#161616" stroke-width="1.46"/>
<line x1="906.5" y1="461.5" x2="963.8" y2="461.5" stroke="#161616" stroke-width="1.46"/>
<polygon points="817.6,461.5 828.1,459.2 828.1,463.8" fill="#161616"/>
<polygon points="963.8,461.5 953.3,463.8 953.3,459.2" fill="#161616"/>
<text x="878.3" y="467.2" font-family="'Liberation Sans', sans-serif" font-size="13.8" font-weight="normal" font-style="normal" text-anchor="start" fill="#161616" textLength="25.3" lengthAdjust="spacingAndGlyphs" stroke="#161616" stroke-width="0.32">4.00</text>
<line x1="916.6" y1="702.0" x2="982.0" y2="569.4" stroke="#161616" stroke-width="1.46"/>
<line x1="982.0" y1="569.4" x2="995.4" y2="569.4" stroke="#161616" stroke-width="1.46"/>
<polygon points="916.6,702.0 919.2,692.1 922.8,693.9" fill="#161616"/>
<text x="996.7" y="569.8" font-family="'Liberation Sans', sans-serif" font-size="13.8" font-weight="normal" font-style="normal" text-anchor="start" fill="#161616" textLength="45.2" lengthAdjust="spacingAndGlyphs" stroke="#161616" stroke-width="0.32">.38 KEY</text>
<text x="996.7" y="587.6" font-family="'Liberation Sans', sans-serif" font-size="13.8" font-weight="normal" font-style="normal" text-anchor="start" fill="#161616" textLength="70.1" lengthAdjust="spacingAndGlyphs" stroke="#161616" stroke-width="0.32">2.88 LONG</text>
<line x1="855.4" y1="706.6" x2="855.4" y2="765.0" stroke="#161616" stroke-width="1.46"/>
<polygon points="855.4,706.6 857.4,716.1 853.4,716.1" fill="#161616"/>
<polygon points="855.4,765.0 853.4,755.5 857.4,755.5" fill="#161616"/>
<line x1="855.4" y1="765.0" x2="855.4" y2="841.0" stroke="#161616" stroke-width="1.46"/>
<line x1="855.4" y1="841.0" x2="871.0" y2="841.0" stroke="#161616" stroke-width="1.46"/>
<circle cx="880.0" cy="841.2" r="4.3" fill="none" stroke="#161616" stroke-width="1.46"/>
<line x1="876.8" y1="847.7" x2="883.2" y2="834.7" stroke="#161616" stroke-width="1.46"/>
<text x="888.2" y="838.6" font-family="'Liberation Sans', sans-serif" font-size="13.8" font-weight="normal" font-style="normal" text-anchor="start" fill="#161616" textLength="31.8" lengthAdjust="spacingAndGlyphs" stroke="#161616" stroke-width="0.32">1.625</text>
<text x="888.2" y="852.4" font-family="'Liberation Sans', sans-serif" font-size="13.8" font-weight="normal" font-style="normal" text-anchor="start" fill="#161616" textLength="31.8" lengthAdjust="spacingAndGlyphs" stroke="#161616" stroke-width="0.32">1.624</text>
<line x1="787.4" y1="811.4" x2="839.4" y2="908.8" stroke="#161616" stroke-width="1.46"/>
<line x1="839.4" y1="908.8" x2="850.6" y2="908.8" stroke="#161616" stroke-width="1.46"/>
<polygon points="787.4,811.4 793.9,819.3 790.3,821.2" fill="#161616"/>
<text x="853.8" y="899.4" font-family="'Liberation Sans', sans-serif" font-size="13.8" font-weight="normal" font-style="normal" text-anchor="start" fill="#161616" textLength="59.6" lengthAdjust="spacingAndGlyphs" stroke="#161616" stroke-width="0.32">GREASER</text>
<text x="853.8" y="917.4" font-family="'Liberation Sans', sans-serif" font-size="13.8" font-weight="normal" font-style="normal" text-anchor="start" fill="#161616" textLength="52.2" lengthAdjust="spacingAndGlyphs" stroke="#161616" stroke-width="0.32">&amp; RELIEF</text>
<text x="853.8" y="935.4" font-family="'Liberation Sans', sans-serif" font-size="13.8" font-weight="normal" font-style="normal" text-anchor="start" fill="#161616" textLength="56.8" lengthAdjust="spacingAndGlyphs" stroke="#161616" stroke-width="0.32">(EA END)</text>
<line x1="685.6" y1="969.0" x2="685.6" y2="1060.6" stroke="#161616" stroke-width="1.59"/>
<line x1="338.2" y1="969.0" x2="338.2" y2="1060.6" stroke="#161616" stroke-width="1.59"/>
<line x1="662.4" y1="986.6" x2="716.0" y2="986.6" stroke="#161616" stroke-width="1.46"/>
<polygon points="662.4,986.6 672.4,984.6 672.4,988.6" fill="#161616"/>
<polygon points="685.6,986.6 675.6,988.6 675.6,984.6" fill="#161616"/>
<text x="720.5" y="992.8" font-family="'Liberation Sans', sans-serif" font-size="13.8" font-weight="normal" font-style="normal" text-anchor="start" fill="#161616" textLength="17.9" lengthAdjust="spacingAndGlyphs" stroke="#161616" stroke-width="0.32">.63</text>
<line x1="360.9" y1="1014.0" x2="495.5" y2="1014.0" stroke="#161616" stroke-width="1.46"/>
<line x1="528.0" y1="1014.0" x2="662.4" y2="1014.0" stroke="#161616" stroke-width="1.46"/>
<polygon points="360.9,1014.0 371.4,1011.7 371.4,1016.3" fill="#161616"/>
<polygon points="662.4,1014.0 651.9,1016.3 651.9,1011.7" fill="#161616"/>
<text x="498.6" y="1019.6" font-family="'Liberation Sans', sans-serif" font-size="13.8" font-weight="normal" font-style="normal" text-anchor="start" fill="#161616" textLength="26.4" lengthAdjust="spacingAndGlyphs" stroke="#161616" stroke-width="0.32">8.25</text>
<line x1="662.4" y1="1014.0" x2="724.5" y2="1014.0" stroke="#161616" stroke-width="1.46"/>
<line x1="756.5" y1="1014.0" x2="817.6" y2="1014.0" stroke="#161616" stroke-width="1.46"/>
<polygon points="662.4,1014.0 672.9,1011.7 672.9,1016.3" fill="#161616"/>
<polygon points="817.6,1014.0 807.1,1016.3 807.1,1011.7" fill="#161616"/>
<text x="727.7" y="1019.6" font-family="'Liberation Sans', sans-serif" font-size="13.8" font-weight="normal" font-style="normal" text-anchor="start" fill="#161616" textLength="25.7" lengthAdjust="spacingAndGlyphs" stroke="#161616" stroke-width="0.32">4.26</text>
<line x1="338.2" y1="1053.8" x2="495.5" y2="1053.8" stroke="#161616" stroke-width="1.46"/>
<line x1="528.0" y1="1053.8" x2="685.6" y2="1053.8" stroke="#161616" stroke-width="1.46"/>
<polygon points="338.2,1053.8 348.7,1051.5 348.7,1056.1" fill="#161616"/>
<polygon points="685.6,1053.8 675.1,1056.1 675.1,1051.5" fill="#161616"/>
<text x="498.6" y="1059.4" font-family="'Liberation Sans', sans-serif" font-size="13.8" font-weight="normal" font-style="normal" text-anchor="start" fill="#161616" textLength="26.4" lengthAdjust="spacingAndGlyphs" stroke="#161616" stroke-width="0.32">9.50</text>
<line x1="355.2" y1="965.0" x2="323.4" y2="1024.4" stroke="#161616" stroke-width="1.46"/>
<line x1="323.4" y1="1024.4" x2="308.6" y2="1024.4" stroke="#161616" stroke-width="1.46"/>
<polygon points="355.2,965.0 352.2,974.8 348.7,972.9" fill="#161616"/>
<text x="254.0" y="1024.2" font-family="'Liberation Sans', sans-serif" font-size="13.8" font-weight="normal" font-style="normal" text-anchor="start" fill="#161616" textLength="53.4" lengthAdjust="spacingAndGlyphs" stroke="#161616" stroke-width="0.32">4 HOLES</text>
<circle cx="281.4" cy="1037.0" r="4.3" fill="none" stroke="#161616" stroke-width="1.46"/>
<line x1="278.2" y1="1043.5" x2="284.6" y2="1030.5" stroke="#161616" stroke-width="1.46"/>
<text x="290.4" y="1042.2" font-family="'Liberation Sans', sans-serif" font-size="13.8" font-weight="normal" font-style="normal" text-anchor="start" fill="#161616" textLength="17.0" lengthAdjust="spacingAndGlyphs" stroke="#161616" stroke-width="0.32">.53</text>
</g>
<g id="rightview">
<path d="M1374.9,953.9 L1432,953.9 C1439,953.9 1442.6,951 1446,945 L1456.6,925.6 C1459.6,920 1462.6,918.4 1466.4,918.4 C1470,918.4 1473,919.6 1477,921.8 L1524,947 C1528,949.2 1531,950 1536,950 L1620,950 C1625,950 1628,949.2 1632,947 L1679,921.8 C1683,919.6 1686,918.4 1689.6,918.4 C1693.4,918.4 1696.4,920 1699.4,925.6 L1710,945 C1713.4,951 1717,953.9 1724,953.9 L1781.4,953.9 L1781.4,963.4 L1722,963.4 C1714,963.4 1709,960 1705,953 L1695.4,935 C1692.6,929.6 1690,927.4 1687,927.4 C1684,927.4 1682,928.2 1679,929.8 L1634,955.6 C1630,957.8 1626,959.4 1620,959.4 L1536,959.4 C1530,959.4 1526,957.8 1522,955.6 L1477,929.8 C1474,928.2 1472,927.4 1469,927.4 C1466,927.4 1463.4,929.6 1460.6,935 L1451,953 C1447,960 1442,963.4 1434,963.4 L1374.9,963.4 Z" fill="#fff" stroke="#161616" stroke-width="2.07" stroke-linejoin="round"/>
<line x1="1406.5" y1="953.9" x2="1406.5" y2="963.4" stroke="#161616" stroke-width="1.34" stroke-dasharray="3 2"/>
<line x1="1750.6" y1="953.9" x2="1750.6" y2="963.4" stroke="#161616" stroke-width="1.34" stroke-dasharray="3 2"/>
<path d="M1385.4,954 L1389.6,954 L1388.2,958.6 L1389.8,963.4 L1385.8,963.4 L1387.4,958.6 Z" fill="#111"/>
<path d="M1771.6,954 L1767.4,954 L1768.8,958.6 L1767.2,963.4 L1771.2,963.4 L1769.6,958.6 Z" fill="#111"/>
<circle cx="1578.0" cy="735.5" r="181.5" fill="none" stroke="#161616" stroke-width="1.83"/>
<path d="M1391.7,828.3 C1396.0,824.4 1405.0,824.2 1420.5,825" fill="none" stroke="#161616" stroke-width="1.83" stroke-linejoin="round"/>
<path d="M1397.0,839 L1420.5,826.8" fill="none" stroke="#161616" stroke-width="3.17" stroke-linejoin="round"/>
<path d="M1420.8,826 C1417.0,838 1411.0,846 1404.7,848.6" fill="none" stroke="#161616" stroke-width="1.83" stroke-linejoin="round"/>
<path d="M1764.3,828.3 C1760.0,824.4 1751.0,824.2 1735.5,825" fill="none" stroke="#161616" stroke-width="1.83" stroke-linejoin="round"/>
<path d="M1759.0,839 L1735.5,826.8" fill="none" stroke="#161616" stroke-width="3.17" stroke-linejoin="round"/>
<path d="M1735.2,826 C1739.0,838 1745.0,846 1751.3,848.6" fill="none" stroke="#161616" stroke-width="1.83" stroke-linejoin="round"/>
<circle cx="1441.4" cy="599.3" r="25.2" fill="#fff" stroke="#161616" stroke-width="1.95"/>
<circle cx="1441.4" cy="599.3" r="20.8" fill="none" stroke="#161616" stroke-width="1.83"/>
<polygon points="1452.4,599.3 1446.9,608.8 1435.9,608.8 1430.4,599.3 1435.9,589.8 1446.9,589.8" fill="none" stroke="#111" stroke-width="2.0"/>
<circle cx="1441.4" cy="599.3" r="8.7" fill="none" stroke="#444" stroke-width="1.46"/>
<circle cx="1441.4" cy="599.3" r="5.0" fill="none" stroke="#161616" stroke-width="3.05"/>
<line x1="1452.1" y1="573.8" x2="1464.5" y2="593.3" stroke="#161616" stroke-width="1.83"/>
<line x1="1450.9" y1="576.8" x2="1461.6" y2="594.1" stroke="#161616" stroke-width="1.59" stroke-dasharray="7 2.2"/>
<line x1="1415.9" y1="610.0" x2="1435.4" y2="622.4" stroke="#161616" stroke-width="1.83"/>
<line x1="1418.9" y1="608.8" x2="1436.2" y2="619.5" stroke="#161616" stroke-width="1.59" stroke-dasharray="7 2.2"/>
<path d="M1443.8,574.3 A206.9,206.9 0 0 1 1416.4,601.7" fill="none" stroke="#161616" stroke-width="1.71" stroke-linejoin="round"/>
<circle cx="1441.4" cy="871.7" r="25.2" fill="#fff" stroke="#161616" stroke-width="1.95"/>
<circle cx="1441.4" cy="871.7" r="20.8" fill="none" stroke="#161616" stroke-width="1.83"/>
<polygon points="1452.4,871.7 1446.9,881.2 1435.9,881.2 1430.4,871.7 1435.9,862.2 1446.9,862.2" fill="none" stroke="#111" stroke-width="2.0"/>
<circle cx="1441.4" cy="871.7" r="8.7" fill="none" stroke="#444" stroke-width="1.46"/>
<circle cx="1441.4" cy="871.7" r="5.0" fill="none" stroke="#161616" stroke-width="3.05"/>
<line x1="1415.9" y1="861.0" x2="1435.4" y2="848.6" stroke="#161616" stroke-width="1.83"/>
<line x1="1418.9" y1="862.2" x2="1436.2" y2="851.5" stroke="#161616" stroke-width="1.59" stroke-dasharray="7 2.2"/>
<line x1="1452.1" y1="897.2" x2="1464.5" y2="877.7" stroke="#161616" stroke-width="1.83"/>
<line x1="1450.9" y1="894.2" x2="1461.6" y2="876.9" stroke="#161616" stroke-width="1.59" stroke-dasharray="7 2.2"/>
<path d="M1416.4,869.3 A206.9,206.9 0 0 0 1443.8,896.7" fill="none" stroke="#161616" stroke-width="1.71" stroke-linejoin="round"/>
<circle cx="1714.6" cy="599.3" r="25.2" fill="#fff" stroke="#161616" stroke-width="1.95"/>
<circle cx="1714.6" cy="599.3" r="20.8" fill="none" stroke="#161616" stroke-width="1.83"/>
<polygon points="1725.6,599.3 1720.1,608.8 1709.1,608.8 1703.6,599.3 1709.1,589.8 1720.1,589.8" fill="none" stroke="#111" stroke-width="2.0"/>
<circle cx="1714.6" cy="599.3" r="8.7" fill="none" stroke="#444" stroke-width="1.46"/>
<circle cx="1714.6" cy="599.3" r="5.0" fill="none" stroke="#161616" stroke-width="3.05"/>
<line x1="1740.1" y1="610.0" x2="1720.6" y2="622.4" stroke="#161616" stroke-width="1.83"/>
<line x1="1737.1" y1="608.8" x2="1719.8" y2="619.5" stroke="#161616" stroke-width="1.59" stroke-dasharray="7 2.2"/>
<line x1="1703.9" y1="573.8" x2="1691.5" y2="593.3" stroke="#161616" stroke-width="1.83"/>
<line x1="1705.1" y1="576.8" x2="1694.4" y2="594.1" stroke="#161616" stroke-width="1.59" stroke-dasharray="7 2.2"/>
<path d="M1739.6,601.7 A206.9,206.9 0 0 0 1712.2,574.3" fill="none" stroke="#161616" stroke-width="1.71" stroke-linejoin="round"/>
<circle cx="1714.6" cy="871.7" r="25.2" fill="#fff" stroke="#161616" stroke-width="1.95"/>
<circle cx="1714.6" cy="871.7" r="20.8" fill="none" stroke="#161616" stroke-width="1.83"/>
<polygon points="1725.6,871.7 1720.1,881.2 1709.1,881.2 1703.6,871.7 1709.1,862.2 1720.1,862.2" fill="none" stroke="#111" stroke-width="2.0"/>
<circle cx="1714.6" cy="871.7" r="8.7" fill="none" stroke="#444" stroke-width="1.46"/>
<circle cx="1714.6" cy="871.7" r="5.0" fill="none" stroke="#161616" stroke-width="3.05"/>
<line x1="1703.9" y1="897.2" x2="1691.5" y2="877.7" stroke="#161616" stroke-width="1.83"/>
<line x1="1705.1" y1="894.2" x2="1694.4" y2="876.9" stroke="#161616" stroke-width="1.59" stroke-dasharray="7 2.2"/>
<line x1="1740.1" y1="861.0" x2="1720.6" y2="848.6" stroke="#161616" stroke-width="1.83"/>
<line x1="1737.1" y1="862.2" x2="1719.8" y2="851.5" stroke="#161616" stroke-width="1.59" stroke-dasharray="7 2.2"/>
<path d="M1712.2,896.7 A206.9,206.9 0 0 1 1739.6,869.3" fill="none" stroke="#161616" stroke-width="1.71" stroke-linejoin="round"/>
<circle cx="1578.0" cy="735.5" r="210.1" fill="none" stroke="#161616" stroke-width="2.93"/>
<circle cx="1578.0" cy="735.5" r="72.2" fill="#fff" stroke="#161616" stroke-width="1.95"/>
<circle cx="1578.0" cy="735.5" r="68.4" fill="none" stroke="#161616" stroke-width="1.83"/>
<circle cx="1578.0" cy="735.5" r="64.0" fill="none" stroke="#161616" stroke-width="1.95"/>
<circle cx="1578.0" cy="735.5" r="39.2" fill="none" stroke="#161616" stroke-width="1.95"/>
<circle cx="1578.0" cy="735.5" r="30.0" fill="none" stroke="#161616" stroke-width="5.61"/>
<rect x="1570.6" y="703.4" width="13.6" height="10.4" rx="0" fill="#fff" stroke="#161616" stroke-width="1.71"/>
<line x1="1582.6" y1="703.4" x2="1582.6" y2="713.8" stroke="#161616" stroke-width="1.46"/>
<circle cx="1519.7" cy="677.5" r="8.4" fill="#fff" stroke="#161616" stroke-width="2.44"/>
<circle cx="1519.7" cy="793.5" r="8.4" fill="#fff" stroke="#161616" stroke-width="2.44"/>
<circle cx="1636.3" cy="677.5" r="8.4" fill="#fff" stroke="#161616" stroke-width="2.44"/>
<circle cx="1636.3" cy="793.5" r="8.4" fill="#fff" stroke="#161616" stroke-width="2.44"/>
<rect x="1555.0" y="662.3" width="45.8" height="7.4" rx="0" fill="none" stroke="#161616" stroke-width="1.83"/>
<line x1="1559.4" y1="662.3" x2="1559.4" y2="669.7" stroke="#161616" stroke-width="1.46"/>
<line x1="1596.4" y1="662.3" x2="1596.4" y2="669.7" stroke="#161616" stroke-width="1.46"/>
<path d="M1568,662.3 L1568,659 L1571.8,659 L1573.4,650 L1574.6,646.2 L1582,646.2 L1583.4,650 L1584.8,659 L1588.6,659 L1588.6,662.3" fill="#fff" stroke="#161616" stroke-width="1.95" stroke-linejoin="round"/>
<line x1="1573.0" y1="652.8" x2="1583.8" y2="652.8" stroke="#161616" stroke-width="1.46"/>
<line x1="1568.0" y1="660.6" x2="1588.6" y2="660.6" stroke="#161616" stroke-width="2.68"/>
<rect x="1575.6" y="647.4" width="5.4" height="3.4" rx="0" fill="#555" stroke="#161616" stroke-width="1.22"/>
<rect x="1555.0" y="800.6" width="45.8" height="7.4" rx="0" fill="none" stroke="#161616" stroke-width="1.83"/>
<line x1="1559.4" y1="800.6" x2="1559.4" y2="808.0" stroke="#161616" stroke-width="1.46"/>
<line x1="1596.4" y1="800.6" x2="1596.4" y2="808.0" stroke="#161616" stroke-width="1.46"/>
<ellipse cx="1578.2" cy="809.6" rx="7.6" ry="2.6" fill="#333" stroke="#111" stroke-width="1.2"/>
<path d="M1568,806 Q1578,801 1588.6,806" fill="none" stroke="#161616" stroke-width="1.46" stroke-linejoin="round"/>
<ellipse cx="1578" cy="947.2" rx="9.4" ry="1.9" fill="#222" stroke="#111" stroke-width="1"/>
<path d="M1536.6,531.2 L1552.4,514 L1604,514 L1619.8,531.2" fill="none" stroke="#161616" stroke-width="1.83" stroke-linejoin="round"/>
<path d="M1562.8,514 L1562.8,495.3 M1593.4,514 L1593.4,495.3" fill="none" stroke="#161616" stroke-width="1.95" stroke-linejoin="round"/>
<rect x="1560.4" y="484.8" width="35.2" height="10.5" rx="0" fill="#fff" stroke="#161616" stroke-width="1.95"/>
<line x1="1560.4" y1="494.8" x2="1595.6" y2="494.8" stroke="#161616" stroke-width="2.93"/>
<path d="M1560.4,484.8 L1568,476.4 M1595.6,484.8 L1588.4,476.4" fill="none" stroke="#161616" stroke-width="1.95" stroke-linejoin="round"/>
<path d="M1564,484 L1568.6,478.6 M1571.6,484 L1569.6,480 M1576,484 L1576,481 M1580.6,484 L1580.6,481 M1585,484 L1587,480 M1592,484 L1587.6,478.6" fill="none" stroke="#161616" stroke-width="1.83" stroke-linejoin="round"/>
<path d="M1568.8,474 L1568.8,412.6 C1568.8,400.4 1587.4,400.4 1587.4,412.6 L1587.4,474 C1587.4,482.4 1568.8,482.4 1568.8,474 Z" fill="#fff" stroke="#161616" stroke-width="1.95" stroke-linejoin="round"/>
<path d="M1565.6,527 L1565.6,532 C1566.4,540 1573,547.6 1578.2,553.2 C1583.4,547.6 1590,540 1590.8,532 L1590.8,527" fill="none" stroke="#161616" stroke-width="1.95" stroke-linejoin="round"/>
<line x1="1578.2" y1="527.0" x2="1578.2" y2="553.2" stroke="#161616" stroke-width="3.17"/>
<path d="M1516.4,531.6 L1516.6,523 L1523.8,521.4 L1528.8,528.6" fill="#fff" stroke="#161616" stroke-width="2.07" stroke-linejoin="round"/>
<path d="M1516.8,523 L1517,517.6 L1522.4,516.6 L1523.8,521.4" fill="#fff" stroke="#161616" stroke-width="2.07" stroke-linejoin="round"/>
<rect x="1518.6" y="518.8" width="3.0" height="2.6" rx="0" fill="none" stroke="#161616" stroke-width="1.10"/>
<line x1="1513.4" y1="534.4" x2="1531.4" y2="528.8" stroke="#161616" stroke-width="3.42"/>
<path d="M1219.4,666 C1219.4,640 1240,620.4 1265,620.4 L1343,620.4 C1352,620.4 1357,626 1357,634.6 L1357,822 C1357,831 1352,836 1343,836 L1233.4,836 C1224.4,836 1219.4,831 1219.4,822 Z" fill="#fff" stroke="#161616" stroke-width="2.07" stroke-linejoin="round"/>
<path d="M1232.8,666 C1232.8,648 1247,634 1265,634 L1337.4,634" fill="none" stroke="#161616" stroke-width="1.95" stroke-linejoin="round"/>
<line x1="1264.6" y1="620.4" x2="1264.6" y2="634.0" stroke="#161616" stroke-width="1.83"/>
<line x1="1343.6" y1="635.6" x2="1343.6" y2="836.0" stroke="#161616" stroke-width="1.83"/>
<line x1="1232.8" y1="722.0" x2="1232.8" y2="836.0" stroke="#161616" stroke-width="1.83"/>
<line x1="1219.4" y1="821.4" x2="1357.0" y2="821.4" stroke="#161616" stroke-width="1.95"/>
<line x1="1339.6" y1="620.4" x2="1341.6" y2="634.0" stroke="#161616" stroke-width="1.46"/>
<path d="M1219.4,666 L1232.8,666 M1219.4,670.6 L1232.8,670.6" fill="none" stroke="#161616" stroke-width="2.07" stroke-linejoin="round"/>
<path d="M1220.6,671 C1221,676 1224,678.4 1229.6,677 L1232.8,671" fill="none" stroke="#161616" stroke-width="2.07" stroke-linejoin="round"/>
<path d="M1232.8,670.8 L1285.6,700.6 M1229.8,677 L1281.6,707.8" fill="none" stroke="#161616" stroke-width="2.20" stroke-linejoin="round"/>
<path d="M1226,678 L1231.6,706 C1232.4,709.6 1233.6,711.6 1236.4,713" fill="none" stroke="#161616" stroke-width="2.20" stroke-linejoin="round"/>
<path d="M1232.8,727.4 C1224,726 1219.8,721 1221.4,715.6 C1223,711 1229,709.4 1236,712.6 L1275,733.4" fill="none" stroke="#161616" stroke-width="2.20" stroke-linejoin="round"/>
<path d="M1236.4,719.6 L1266,735.6" fill="none" stroke="#161616" stroke-width="2.20" stroke-linejoin="round"/>
<path d="M1243.6,716.4 L1239,724" fill="none" stroke="#161616" stroke-width="1.83" stroke-linejoin="round"/>
<rect x="1268.2" y="713" width="8" height="15" fill="#fff" stroke="#111" stroke-width="1.6" transform="rotate(28 1272 720.5)"/>
<path d="M1302,716.4 L1326.4,729.4 C1332,732.4 1334,736.4 1331.6,742 L1320,764.6 C1317,768.8 1312.6,769.6 1307,767 L1290.6,757.8" fill="none" stroke="#161616" stroke-width="2.32" stroke-linejoin="round"/>
<path d="M1298,722 L1321.6,734.6 C1326,737 1327.6,740 1325.6,744 L1315,763 C1313,766 1310.6,766.6 1306,764.4 L1293.6,757.6" fill="none" stroke="#161616" stroke-width="2.07" stroke-linejoin="round"/>
<path d="M1322.4,728.6 C1310,729.6 1303.6,738 1305,749 C1305.6,755 1308.6,759.6 1312.6,762" fill="none" stroke="#161616" stroke-width="2.20" stroke-linejoin="round"/>
<path d="M1326,733 L1310.6,761.4" fill="none" stroke="#161616" stroke-width="1.83" stroke-linejoin="round"/>
<path d="M1290,727.6 C1293,729.6 1297.4,729.4 1300.4,727" fill="none" stroke="#161616" stroke-width="2.07" stroke-linejoin="round"/>
<line x1="1329.6" y1="634.6" x2="1233.2" y2="797.0" stroke="#161616" stroke-width="4.51"/>
<line x1="1338.6" y1="633.6" x2="1229.8" y2="828.4" stroke="#161616" stroke-width="2.81"/>
<line x1="1343.4" y1="638.6" x2="1239.0" y2="824.2" stroke="#161616" stroke-width="4.51"/>
<line x1="1349.8" y1="640.6" x2="1246.8" y2="824.6" stroke="#161616" stroke-width="4.51"/>
<line x1="1343.2" y1="637.6" x2="1349.6" y2="640.4" stroke="#161616" stroke-width="2.93"/>
<path d="M1238.6,824.6 Q1241.4,826.8 1246.6,824.8" fill="none" stroke="#161616" stroke-width="2.68" stroke-linejoin="round"/>
<path d="M1292.6,727.6 C1296,729.8 1301,729.6 1303.6,724 L1312,709" fill="none" stroke="#161616" stroke-width="1.95" stroke-linejoin="round"/>
<line x1="1227.6" y1="836.0" x2="1233.6" y2="822.0" stroke="#161616" stroke-width="1.71"/>
<line x1="1332.6" y1="622.0" x2="1340.6" y2="638.0" stroke="#161616" stroke-width="1.46"/>
<rect x="1267.0" y="828.6" width="51.4" height="7.4" rx="0" fill="none" stroke="#161616" stroke-width="1.34" stroke-dasharray="6 2.4"/>
<rect x="1357.6" y="672.6" width="4.4" height="124.2" rx="0" fill="#555" stroke="#161616" stroke-width="1.95"/>
<path d="M1362,678.6 L1375,678.6 M1362,692.7 L1371.4,692.7 M1362,778 L1371.4,778 M1362,791.8 L1375,791.8 M1375,674.4 L1375,678.6 M1375,791.8 L1375,796" fill="none" stroke="#161616" stroke-width="1.83" stroke-linejoin="round"/>
<path d="M1375,674.4 A188,188 0 0 0 1375,796" fill="none" stroke="#161616" stroke-width="2.20" stroke-linejoin="round"/>
<line x1="1168.0" y1="735.5" x2="1201.0" y2="735.5" stroke="#161616" stroke-width="1.83"/>
<line x1="1207.0" y1="735.5" x2="1212.0" y2="735.5" stroke="#161616" stroke-width="1.83"/>
<line x1="1217.0" y1="735.5" x2="1252.3" y2="735.5" stroke="#161616" stroke-width="1.83"/>
<line x1="1257.3" y1="735.5" x2="1263.3" y2="735.5" stroke="#161616" stroke-width="1.83"/>
<line x1="1268.3" y1="735.5" x2="1334.3" y2="735.5" stroke="#161616" stroke-width="1.83"/>
<line x1="1339.3" y1="735.5" x2="1345.3" y2="735.5" stroke="#161616" stroke-width="1.83"/>
<line x1="1350.3" y1="735.5" x2="1416.3" y2="735.5" stroke="#161616" stroke-width="1.83"/>
<line x1="1421.3" y1="735.5" x2="1427.3" y2="735.5" stroke="#161616" stroke-width="1.83"/>
<line x1="1432.3" y1="735.5" x2="1498.3" y2="735.5" stroke="#161616" stroke-width="1.83"/>
<line x1="1503.3" y1="735.5" x2="1509.3" y2="735.5" stroke="#161616" stroke-width="1.83"/>
<line x1="1514.0" y1="735.5" x2="1556.0" y2="735.5" stroke="#161616" stroke-width="1.83"/>
<line x1="1567.0" y1="735.5" x2="1589.4" y2="735.5" stroke="#161616" stroke-width="1.83"/>
<line x1="1600.0" y1="735.5" x2="1668.2" y2="735.5" stroke="#161616" stroke-width="1.83"/>
<line x1="1674.0" y1="735.5" x2="1680.0" y2="735.5" stroke="#161616" stroke-width="1.83"/>
<line x1="1686.2" y1="735.5" x2="1752.3" y2="735.5" stroke="#161616" stroke-width="1.83"/>
<line x1="1757.3" y1="735.5" x2="1762.6" y2="735.5" stroke="#161616" stroke-width="1.83"/>
<line x1="1768.3" y1="735.5" x2="1834.6" y2="735.5" stroke="#161616" stroke-width="1.83"/>
<line x1="1578.0" y1="363.7" x2="1578.0" y2="378.0" stroke="#161616" stroke-width="1.71"/>
<line x1="1578.0" y1="381.0" x2="1578.0" y2="412.0" stroke="#161616" stroke-width="1.71"/>
<line x1="1578.0" y1="417.0" x2="1578.0" y2="423.6" stroke="#161616" stroke-width="1.71"/>
<line x1="1578.0" y1="428.6" x2="1578.0" y2="496.5" stroke="#161616" stroke-width="1.71"/>
<line x1="1578.0" y1="501.5" x2="1578.0" y2="507.5" stroke="#161616" stroke-width="1.71"/>
<line x1="1578.0" y1="512.5" x2="1578.0" y2="581.0" stroke="#161616" stroke-width="1.71"/>
<line x1="1578.0" y1="586.0" x2="1578.0" y2="592.4" stroke="#161616" stroke-width="1.71"/>
<line x1="1578.0" y1="597.4" x2="1578.0" y2="665.5" stroke="#161616" stroke-width="1.71"/>
<line x1="1578.0" y1="670.5" x2="1578.0" y2="676.5" stroke="#161616" stroke-width="1.71"/>
<line x1="1578.0" y1="681.5" x2="1578.0" y2="716.0" stroke="#161616" stroke-width="1.71"/>
<line x1="1578.0" y1="722.8" x2="1578.0" y2="749.0" stroke="#161616" stroke-width="1.71"/>
<line x1="1578.0" y1="754.0" x2="1578.0" y2="814.0" stroke="#161616" stroke-width="1.71"/>
<line x1="1578.0" y1="819.0" x2="1578.0" y2="825.0" stroke="#161616" stroke-width="1.71"/>
<line x1="1578.0" y1="830.0" x2="1578.0" y2="896.0" stroke="#161616" stroke-width="1.71"/>
<line x1="1578.0" y1="901.0" x2="1578.0" y2="907.0" stroke="#161616" stroke-width="1.71"/>
<line x1="1578.0" y1="912.0" x2="1578.0" y2="978.0" stroke="#161616" stroke-width="1.71"/>
<line x1="1578.0" y1="983.0" x2="1578.0" y2="989.0" stroke="#161616" stroke-width="1.71"/>
<line x1="1578.0" y1="994.0" x2="1578.0" y2="1049.0" stroke="#161616" stroke-width="1.71"/>
<line x1="1292.5" y1="814.8" x2="1292.5" y2="838.6" stroke="#161616" stroke-width="1.59"/>
<line x1="1292.5" y1="843.0" x2="1292.5" y2="851.0" stroke="#161616" stroke-width="1.59"/>
<line x1="1292.5" y1="856.0" x2="1292.5" y2="1048.4" stroke="#161616" stroke-width="1.59"/>
<line x1="1396.6" y1="938.3" x2="1396.6" y2="951.5" stroke="#161616" stroke-width="1.59"/>
<line x1="1396.6" y1="966.0" x2="1396.6" y2="977.5" stroke="#161616" stroke-width="1.59"/>
<line x1="1396.6" y1="983.2" x2="1396.6" y2="1014.2" stroke="#161616" stroke-width="1.59"/>
<line x1="1396.6" y1="954.0" x2="1396.6" y2="963.6" stroke="#161616" stroke-width="1.22" stroke-dasharray="3 2"/>
<line x1="1760.4" y1="938.3" x2="1760.4" y2="951.5" stroke="#161616" stroke-width="1.59"/>
<line x1="1760.4" y1="966.0" x2="1760.4" y2="977.5" stroke="#161616" stroke-width="1.59"/>
<line x1="1760.4" y1="983.2" x2="1760.4" y2="1014.2" stroke="#161616" stroke-width="1.59"/>
<line x1="1760.4" y1="954.0" x2="1760.4" y2="963.6" stroke="#161616" stroke-width="1.22" stroke-dasharray="3 2"/>
<line x1="1367.8" y1="327.3" x2="1367.8" y2="735.0" stroke="#161616" stroke-width="1.59"/>
<line x1="1788.1" y1="327.3" x2="1788.1" y2="735.0" stroke="#161616" stroke-width="1.59"/>
<line x1="1367.8" y1="334.3" x2="1553.0" y2="334.3" stroke="#161616" stroke-width="1.46"/>
<line x1="1604.0" y1="334.3" x2="1788.1" y2="334.3" stroke="#161616" stroke-width="1.46"/>
<polygon points="1367.8,334.3 1378.3,332.0 1378.3,336.6" fill="#161616"/>
<polygon points="1788.1,334.3 1777.6,336.6 1777.6,332.0" fill="#161616"/>
<circle cx="1561.8" cy="334.6" r="4.4" fill="none" stroke="#161616" stroke-width="1.46"/>
<line x1="1558.5" y1="341.4" x2="1565.1" y2="327.9" stroke="#161616" stroke-width="1.46"/>
<text x="1570.4" y="340.0" font-family="'Liberation Sans', sans-serif" font-size="13.8" font-weight="normal" font-style="normal" text-anchor="start" fill="#161616" textLength="30.2" lengthAdjust="spacingAndGlyphs" stroke="#161616" stroke-width="0.32">11.51</text>
<line x1="1219.9" y1="364.0" x2="1219.9" y2="662.0" stroke="#161616" stroke-width="1.59"/>
<line x1="1219.9" y1="371.0" x2="1383.5" y2="371.0" stroke="#161616" stroke-width="1.46"/>
<line x1="1412.5" y1="371.0" x2="1578.0" y2="371.0" stroke="#161616" stroke-width="1.46"/>
<polygon points="1219.9,371.0 1230.4,368.7 1230.4,373.3" fill="#161616"/>
<polygon points="1578.0,371.0 1567.5,373.3 1567.5,368.7" fill="#161616"/>
<text x="1386.6" y="376.8" font-family="'Liberation Sans', sans-serif" font-size="13.8" font-weight="normal" font-style="normal" text-anchor="start" fill="#161616" textLength="22.8" lengthAdjust="spacingAndGlyphs" stroke="#161616" stroke-width="0.32">9.81</text>
<line x1="1116.4" y1="403.5" x2="1562.4" y2="403.5" stroke="#161616" stroke-width="1.59"/>
<line x1="1116.4" y1="494.3" x2="1552.0" y2="494.3" stroke="#161616" stroke-width="1.59"/>
<line x1="1115.6" y1="963.1" x2="1368.6" y2="963.1" stroke="#161616" stroke-width="1.59"/>
<line x1="1124.2" y1="403.5" x2="1124.2" y2="439.5" stroke="#161616" stroke-width="1.46"/>
<line x1="1124.2" y1="458.5" x2="1124.2" y2="494.3" stroke="#161616" stroke-width="1.46"/>
<polygon points="1124.2,403.5 1126.5,414.0 1121.9,414.0" fill="#161616"/>
<polygon points="1124.2,494.3 1121.9,483.8 1126.5,483.8" fill="#161616"/>
<text x="1111.5" y="454.0" font-family="'Liberation Sans', sans-serif" font-size="13.8" font-weight="normal" font-style="normal" text-anchor="start" fill="#161616" textLength="24.5" lengthAdjust="spacingAndGlyphs" stroke="#161616" stroke-width="0.32">2.50</text>
<line x1="1124.2" y1="494.3" x2="1124.2" y2="722.2" stroke="#161616" stroke-width="1.46"/>
<line x1="1124.2" y1="736.0" x2="1124.2" y2="963.1" stroke="#161616" stroke-width="1.46"/>
<polygon points="1124.2,494.3 1126.5,504.8 1121.9,504.8" fill="#161616"/>
<polygon points="1124.2,963.1 1121.9,952.6 1126.5,952.6" fill="#161616"/>
<text x="1108.5" y="734.8" font-family="'Liberation Sans', sans-serif" font-size="13.8" font-weight="normal" font-style="normal" text-anchor="start" fill="#161616" textLength="31.3" lengthAdjust="spacingAndGlyphs" stroke="#161616" stroke-width="0.32">12.86</text>
<line x1="1175.6" y1="735.5" x2="1175.6" y2="836.5" stroke="#161616" stroke-width="1.46"/>
<line x1="1175.6" y1="861.0" x2="1175.6" y2="963.1" stroke="#161616" stroke-width="1.46"/>
<polygon points="1175.6,735.5 1177.9,746.0 1173.3,746.0" fill="#161616"/>
<polygon points="1175.6,963.1 1173.3,952.6 1177.9,952.6" fill="#161616"/>
<text x="1150.4" y="855.0" font-family="'Liberation Sans', sans-serif" font-size="13.8" font-weight="normal" font-style="normal" text-anchor="start" fill="#161616" textLength="24.5" lengthAdjust="spacingAndGlyphs" stroke="#161616" stroke-width="0.32">6.25</text>
<text x="1177.2" y="847.9" font-family="'Liberation Sans', sans-serif" font-size="13.8" font-weight="normal" font-style="normal" text-anchor="start" fill="#161616" textLength="23.8" lengthAdjust="spacingAndGlyphs" stroke="#161616" stroke-width="0.32">+.00</text>
<text x="1178.6" y="860.5" font-family="'Liberation Sans', sans-serif" font-size="13.8" font-weight="normal" font-style="normal" text-anchor="start" fill="#161616" textLength="22.4" lengthAdjust="spacingAndGlyphs" stroke="#161616" stroke-width="0.32">-.06</text>
<line x1="1281.6" y1="838.8" x2="1243.0" y2="1024.8" stroke="#161616" stroke-width="1.46"/>
<line x1="1243.0" y1="1024.8" x2="1227.6" y2="1024.8" stroke="#161616" stroke-width="1.46"/>
<polygon points="1281.6,838.8 1281.5,849.0 1277.6,848.2" fill="#161616"/>
<text x="1154.5" y="1024.0" font-family="'Liberation Sans', sans-serif" font-size="13.8" font-weight="normal" font-style="normal" text-anchor="start" fill="#161616" textLength="71.8" lengthAdjust="spacingAndGlyphs" stroke="#161616" stroke-width="0.32">LEAD HOLE</text>
<circle cx="1192.2" cy="1036.8" r="4.3" fill="none" stroke="#161616" stroke-width="1.46"/>
<line x1="1189.0" y1="1043.3" x2="1195.4" y2="1030.3" stroke="#161616" stroke-width="1.46"/>
<text x="1200.6" y="1041.8" font-family="'Liberation Sans', sans-serif" font-size="13.8" font-weight="normal" font-style="normal" text-anchor="start" fill="#161616" textLength="25.7" lengthAdjust="spacingAndGlyphs" stroke="#161616" stroke-width="0.32">1.75</text>
<line x1="1396.6" y1="1006.4" x2="1472.0" y2="1006.4" stroke="#161616" stroke-width="1.46"/>
<line x1="1503.0" y1="1006.4" x2="1578.0" y2="1006.4" stroke="#161616" stroke-width="1.46"/>
<polygon points="1396.6,1006.4 1407.1,1004.1 1407.1,1008.7" fill="#161616"/>
<polygon points="1578.0,1006.4 1567.5,1008.7 1567.5,1004.1" fill="#161616"/>
<line x1="1578.0" y1="1006.4" x2="1653.6" y2="1006.4" stroke="#161616" stroke-width="1.46"/>
<line x1="1684.4" y1="1006.4" x2="1760.4" y2="1006.4" stroke="#161616" stroke-width="1.46"/>
<polygon points="1578.0,1006.4 1588.5,1004.1 1588.5,1008.7" fill="#161616"/>
<polygon points="1760.4,1006.4 1749.9,1008.7 1749.9,1004.1" fill="#161616"/>
<text x="1475.0" y="1012.2" font-family="'Liberation Sans', sans-serif" font-size="13.8" font-weight="normal" font-style="normal" text-anchor="start" fill="#161616" textLength="25.0" lengthAdjust="spacingAndGlyphs" stroke="#161616" stroke-width="0.32">4.98</text>
<text x="1656.7" y="1012.2" font-family="'Liberation Sans', sans-serif" font-size="13.8" font-weight="normal" font-style="normal" text-anchor="start" fill="#161616" textLength="24.5" lengthAdjust="spacingAndGlyphs" stroke="#161616" stroke-width="0.32">4.99</text>
<line x1="1292.6" y1="1041.2" x2="1420.0" y2="1041.2" stroke="#161616" stroke-width="1.46"/>
<line x1="1451.4" y1="1041.2" x2="1578.0" y2="1041.2" stroke="#161616" stroke-width="1.46"/>
<polygon points="1292.6,1041.2 1303.1,1038.9 1303.1,1043.5" fill="#161616"/>
<polygon points="1578.0,1041.2 1567.5,1043.5 1567.5,1038.9" fill="#161616"/>
<line x1="1578.0" y1="1041.2" x2="1664.0" y2="1041.2" stroke="#161616" stroke-width="1.46"/>
<line x1="1695.6" y1="1041.2" x2="1781.4" y2="1041.2" stroke="#161616" stroke-width="1.46"/>
<polygon points="1578.0,1041.2 1588.5,1038.9 1588.5,1043.5" fill="#161616"/>
<polygon points="1781.4,1041.2 1770.9,1043.5 1770.9,1038.9" fill="#161616"/>
<text x="1423.0" y="1047.4" font-family="'Liberation Sans', sans-serif" font-size="13.8" font-weight="normal" font-style="normal" text-anchor="start" fill="#161616" textLength="25.3" lengthAdjust="spacingAndGlyphs" stroke="#161616" stroke-width="0.32">7.82</text>
<text x="1667.1" y="1047.4" font-family="'Liberation Sans', sans-serif" font-size="13.8" font-weight="normal" font-style="normal" text-anchor="start" fill="#161616" textLength="25.3" lengthAdjust="spacingAndGlyphs" stroke="#161616" stroke-width="0.32">5.56</text>
<line x1="1374.9" y1="969.0" x2="1374.9" y2="1100.0" stroke="#161616" stroke-width="1.59"/>
<line x1="1781.4" y1="969.0" x2="1781.4" y2="1100.0" stroke="#161616" stroke-width="1.59"/>
<line x1="1374.9" y1="1093.3" x2="1559.6" y2="1093.3" stroke="#161616" stroke-width="1.46"/>
<line x1="1597.0" y1="1093.3" x2="1781.4" y2="1093.3" stroke="#161616" stroke-width="1.46"/>
<polygon points="1374.9,1093.3 1385.4,1091.0 1385.4,1095.6" fill="#161616"/>
<polygon points="1781.4,1093.3 1770.9,1095.6 1770.9,1091.0" fill="#161616"/>
<text x="1562.7" y="1099.2" font-family="'Liberation Sans', sans-serif" font-size="13.8" font-weight="normal" font-style="normal" text-anchor="start" fill="#161616" textLength="31.3" lengthAdjust="spacingAndGlyphs" stroke="#161616" stroke-width="0.32">11.13</text>
<line x1="1786.6" y1="954.2" x2="1811.4" y2="954.2" stroke="#161616" stroke-width="1.59"/>
<line x1="1786.6" y1="963.0" x2="1811.4" y2="963.0" stroke="#161616" stroke-width="1.59"/>
<line x1="1803.2" y1="922.2" x2="1803.2" y2="954.2" stroke="#161616" stroke-width="1.46"/>
<line x1="1803.2" y1="922.2" x2="1817.8" y2="922.2" stroke="#161616" stroke-width="1.46"/>
<polygon points="1803.2,954.2 1801.2,944.7 1805.2,944.7" fill="#161616"/>
<line x1="1803.2" y1="963.0" x2="1803.2" y2="983.6" stroke="#161616" stroke-width="1.46"/>
<polygon points="1803.2,963.0 1805.2,972.5 1801.2,972.5" fill="#161616"/>
<text x="1821.8" y="927.9" font-family="'Liberation Sans', sans-serif" font-size="13.8" font-weight="normal" font-style="normal" text-anchor="start" fill="#161616" textLength="16.8" lengthAdjust="spacingAndGlyphs" stroke="#161616" stroke-width="0.32">.25</text>
</g>
</svg>
</body></html>
